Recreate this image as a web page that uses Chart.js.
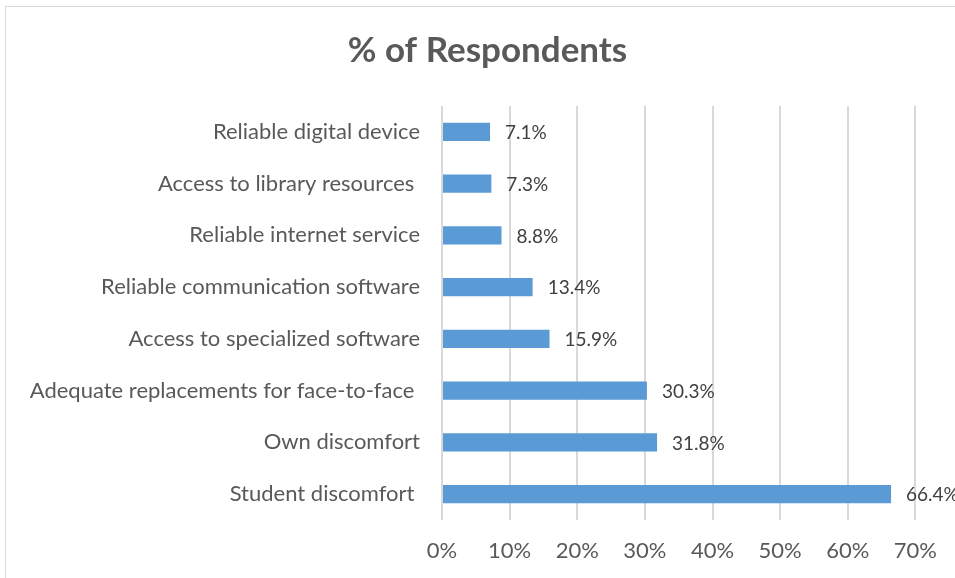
<!DOCTYPE html>
<html>
<head>
<meta charset="utf-8">
<script src="https://cdn.jsdelivr.net/npm/chart.js@4/dist/chart.umd.min.js"></script>
<style>
  html, body { margin: 0; padding: 0; background: #fff; overflow: hidden; }
  #wrap { position: absolute; left: 0; top: 0; width: 955px; height: 578px; }
  #frame { position: absolute; left: 5px; top: 6px; width: 2000px; height: 2000px; border: 1px solid #d9d9d9; pointer-events: none; }
</style>
</head>
<body>
<div id="frame"></div>
<div id="wrap"><canvas id="c" width="955" height="578"></canvas></div>
<script>
const categories = [
  "Reliable digital device",
  "Access to library resources ",
  "Reliable internet service",
  "Reliable communication software",
  "Access to specialized software",
  "Adequate replacements for face-to-face ",
  "Own discomfort",
  "Student discomfort "
];
const respondents = [7.1, 7.3, 8.8, 13.4, 15.9, 30.3, 31.8, 66.4];
const xTicks = [0, 10, 20, 30, 40, 50, 60, 70];
const chartTitle = "% of Respondents";

const FONT = "Lato, 'Liberation Sans', sans-serif";

const dataLabels = {
  id: 'dataLabels',
  afterDatasetsDraw(chart) {
    const ctx = chart.ctx;
    const meta = chart.getDatasetMeta(0);
    ctx.save();
    ctx.font = "19px " + FONT;
    ctx.fillStyle = "#404040";
    ctx.textAlign = "left";
    ctx.textBaseline = "middle";
    meta.data.forEach((bar, i) => {
      ctx.fillText(respondents[i].toFixed(1) + "%", bar.x + 15, bar.y + 1);
    });
    ctx.restore();
  }
};

// centre the title over the whole chart frame (not just the padded area)
const titleCentre = {
  id: 'titleCentre',
  afterLayout(chart) {
    const t = chart.titleBlock;
    if (t) { t.left = 0; t.right = 975; t.width = 975; }
  }
};

new Chart(document.getElementById('c'), {
  type: 'bar',
  data: {
    labels: categories,
    datasets: [{
      data: respondents,
      backgroundColor: '#5B9BD5',
      borderWidth: 0,
      barPercentage: 0.7,
      categoryPercentage: 0.5
    }]
  },
  options: {
    indexAxis: 'y',
    responsive: false,
    animation: false,
    devicePixelRatio: 1,
    layout: { padding: { left: 0, right: 37, top: 0, bottom: 0 } },
    plugins: {
      legend: { display: false },
      tooltip: { enabled: false },
      title: {
        display: true,
        text: chartTitle,
        color: '#595959',
        font: { family: FONT, size: 35, weight: 'bold' },
        padding: { top: 30, bottom: 34 }
      }
    },
    scales: {
      x: {
        min: 0,
        max: 70,
        afterBuildTicks(scale) { scale.ticks = xTicks.map(v => ({ value: v })); },
        afterFit(scale) { scale.height = 58; },
        grid: { color: '#d9d9d9', lineWidth: 2, drawTicks: false },
        border: { display: false },
        ticks: {
          color: '#595959',
          padding: 18,
          font: { family: FONT, size: 22 },
          callback: v => v + '%'
        }
      },
      y: {
        afterFit(scale) { scale.width = 442; },
        grid: { display: false, drawTicks: false },
        border: { display: false },
        ticks: {
          color: '#595959',
          padding: 22,
          font: { family: FONT, size: 22 }
        }
      }
    }
  },
  plugins: [dataLabels, titleCentre]
});
</script>
</body>
</html>
